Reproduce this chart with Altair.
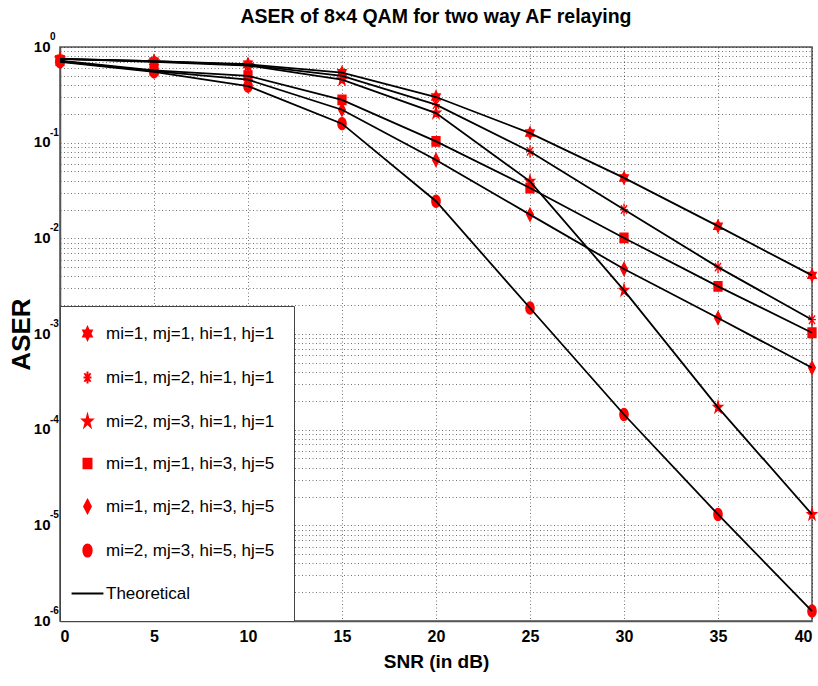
import altair as alt
import pandas as pd

# SNR points (dB) shared by every curve
snr = [0, 5, 10, 15, 20, 25, 30, 35, 40]

labels = [
    "mi=1, mj=1, hi=1, hj=1",
    "mi=1, mj=2, hi=1, hj=1",
    "mi=2, mj=3, hi=1, hj=1",
    "mi=1, mj=1, hi=3, hj=5",
    "mi=1, mj=2, hi=3, hj=5",
    "mi=2, mj=3, hi=5, hj=5",
]

# average symbol error rate per fading/severity setting
aser_1 = [0.75, 0.71, 0.66, 0.54, 0.30, 0.126, 0.0428, 0.0134, 0.0041]
aser_2 = [0.75, 0.71, 0.65, 0.50, 0.25, 0.081, 0.0200, 0.0050, 0.00141]
aser_3 = [0.75, 0.70, 0.64, 0.455, 0.204, 0.0394, 0.00286, 0.000171, 0.000013]
aser_4 = [0.72, 0.57, 0.50, 0.28, 0.103, 0.0336, 0.0101, 0.00315, 0.00103]
aser_5 = [0.71, 0.56, 0.455, 0.221, 0.066, 0.0177, 0.00478, 0.00147, 0.000443]
aser_6 = [0.70, 0.55, 0.39, 0.158, 0.0244, 0.00187, 0.000144, 0.0000130, 0.00000127]
series = [aser_1, aser_2, aser_3, aser_4, aser_5, aser_6]

theory_label = "Theoretical"
x_ticks = [0, 5, 10, 15, 20, 25, 30, 35, 40]
decades = [0, -1, -2, -3, -4, -5, -6]

# marker glyphs (slightly tall, like the classic plot markers)
hexagram = ("M0,-1 L0.231,-0.5 L0.693,-0.5 L0.462,0 L0.693,0.5 L0.231,0.5 L0,1 "
            "L-0.231,0.5 L-0.693,0.5 L-0.462,0 L-0.693,-0.5 L-0.231,-0.5 Z")
asterisk = ("M0,-1 L0,1 M-0.65,0 L0.65,0 M-0.5,-0.7 L0.5,0.7 M-0.5,0.7 L0.5,-0.7")
star5 = ("M0,-1 L0.18,-0.309 L0.76,-0.309 L0.29,0.118 L0.47,0.809 L0,0.382 "
         "L-0.47,0.809 L-0.29,0.118 L-0.76,-0.309 L-0.18,-0.309 Z")
square = "M-0.65,-0.78 L0.65,-0.78 L0.65,0.78 L-0.65,0.78 Z"
diamond = "M0,-1.05 L0.55,0 L0,1.05 L-0.55,0 Z"
ellipse = "M0,-1 A0.68,1 0 1,1 0,1 A0.68,1 0 1,1 0,-1 Z"
line_glyph = "M-2.6,0 L2.6,0"

rows = []
for lab, vals in zip(labels, series):
    for s, v in zip(snr, vals):
        rows.append({"snr": s, "aser": v, "label": lab})
df = pd.DataFrame(rows)

exp_df = pd.DataFrame({"v": [10.0 ** e for e in decades], "e": [str(e) for e in decades]})

FONT = "Liberation Sans"
legend_domain = labels + [theory_label]
shape_range = [hexagram, asterisk, star5, square, diamond, ellipse, line_glyph]
fill_range = ["#ff0000"] * 6 + ["#000000"]

x_scale = alt.Scale(domain=[0, 40], nice=False, zero=False)
y_scale = alt.Scale(type="log", domain=[1e-6, 1], nice=False)

legend = alt.Legend(
    title=None,
    orient="bottom-left",
    offset=0,
    labelLimit=400,
)

x_axis = alt.Axis(
    values=x_ticks, format="d", title="SNR (in dB)",
    titleFont=FONT, titleFontSize=19, titleFontWeight="bold",
    titleY=46, titleBaseline="alphabetic",
    labelFont=FONT, labelFontSize=16, labelFontWeight="bold", labelPadding=7,
    ticks=False, grid=True,
)

y_grid_values = [m * 10.0 ** e for e in range(-6, 0) for m in range(1, 10)] + [1.0]
y_axis = alt.Axis(
    values=y_grid_values,
    labelExpr="abs(log(datum.value)/LN10 - round(log(datum.value)/LN10)) < 1e-6 ? '10' : ''",
    title="ASER",
    titleFont=FONT, titleFontSize=26, titleFontWeight="bold",
    titleAngle=270, titleX=-31, titleY=287, titleAlign="center", titleBaseline="alphabetic",
    labelFont=FONT, labelFontSize=15, labelFontWeight="bold",
    labelPadding=10, labelOffset=-1, labelBaseline="middle",
    ticks=False, grid=True,
)

markers = alt.Chart(df).mark_point(filled=True, opacity=1, size=150, strokeWidth=1.3).encode(
    x=alt.X("snr:Q", scale=x_scale, axis=x_axis),
    y=alt.Y("aser:Q", scale=y_scale, axis=y_axis),
    shape=alt.Shape("label:N", scale=alt.Scale(domain=legend_domain, range=shape_range), legend=legend),
    fill=alt.Fill("label:N", scale=alt.Scale(domain=legend_domain, range=fill_range), legend=legend),
    stroke=alt.Stroke("label:N", scale=alt.Scale(domain=legend_domain, range=fill_range), legend=legend),
)

curves = alt.Chart(df).mark_line(color="black", strokeWidth=1.8).encode(
    x=alt.X("snr:Q", scale=x_scale),
    y=alt.Y("aser:Q", scale=y_scale),
    detail="label:N",
)

exponents = alt.Chart(exp_df).mark_text(
    align="left", baseline="middle", dx=-10, dy=-10,
    font=FONT, fontSize=10, fontWeight="bold", color="black",
).encode(
    x=alt.datum(0),
    y=alt.Y("v:Q", scale=y_scale),
    text="e:N",
)

chart = alt.layer(markers, curves, exponents).properties(
    width=752,
    height=574,
    autosize=alt.AutoSizeParams(type="none"),
    padding={"left": 60, "top": 47, "right": 6, "bottom": 65},
    background="white",
    title=alt.TitleParams(
        "ASER of 8\u00d74 QAM for two way AF relaying",
        font=FONT, fontSize=19.5, fontWeight="bold", anchor="middle",
        frame="group", offset=5, color="black",
    ),
).configure_view(
    stroke="#555555", strokeWidth=1.5,
).configure_axis(
    gridColor="#000000", gridOpacity=0.55, gridDash=[1, 2.5], gridWidth=1,
    domainColor="#555555", domainWidth=1.5,
    labelColor="black", titleColor="black",
).configure_legend(
    strokeColor="#444444", fillColor="white", padding=19,
    labelFont=FONT, labelFontSize=17, labelColor="black",
    symbolSize=150, symbolStrokeWidth=2, labelOffset=10, rowPadding=23,
    symbolOpacity=1,
)

chart.save("out.html", embed_options={"renderer": "svg", "actions": False})
